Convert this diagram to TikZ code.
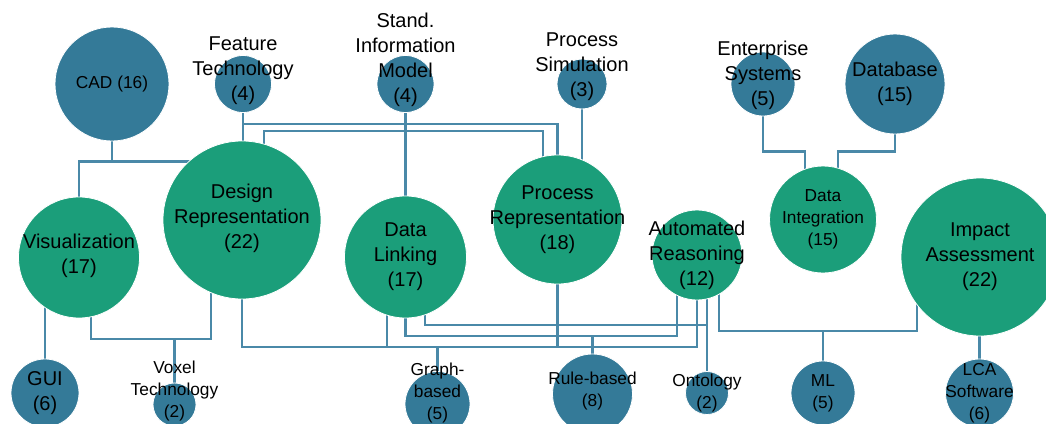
\documentclass[tikz,border=0pt]{standalone}
\usepackage{fontspec}
\setmainfont{Liberation Sans}
\usepackage{tikz}
\usetikzlibrary{calc,backgrounds}
\definecolor{ToolBlue}{HTML}{347A98}
\definecolor{TopicGreen}{HTML}{1B9E7A}
\definecolor{LinkBlue}{HTML}{4A89A8}

\begin{document}
\begin{tikzpicture}[
    x=1pt, y=-1pt,
    tool/.style={circle, fill=ToolBlue, draw=white, line width=0.8pt, inner sep=0pt},
    topic/.style={circle, fill=TopicGreen, draw=white, line width=0.8pt, inner sep=0pt},
    big/.style={align=center, inner sep=0pt, font=\fontsize{20}{25}\selectfont},
    small/.style={align=center, inner sep=0pt, font=\fontsize{17.3}{22}\selectfont},
    link/.style={draw=LinkBlue, line width=2.2pt}
]
\useasboundingbox (0,0) rectangle (1046,423);

% top row
\node[tool, minimum size=114] (cad) at (112,84) {};
\node[tool, minimum size=57] (ft) at (243,84) {};
\node[tool, minimum size=57] (sim) at (405.5,84) {};
\node[tool, minimum size=50] (psim) at (582,84) {};
\node[tool, minimum size=64] (ent) at (763,84) {};
\node[tool, minimum size=100] (db) at (895,84) {};
% middle row
\node[topic, minimum size=121] (vis) at (79,257.5) {};
\node[topic, minimum size=158] (dr) at (242,220) {};
\node[topic, minimum size=122] (dl) at (405.5,257) {};
\node[topic, minimum size=129] (pr) at (557.5,219.5) {};
\node[topic, minimum size=90] (ar) at (697,255) {};
\node[topic, minimum size=107] (di) at (823,219.5) {};
\node[topic, minimum size=158] (ia) at (980,257) {};
% bottom row
\node[tool, minimum size=68] (gui) at (45,393) {};
\node[tool, minimum size=43] (vox) at (174.5,404.5) {};
\node[tool, minimum size=65] (gb) at (437.5,404) {};
\node[tool, minimum size=80] (rb) at (592.5,394) {};
\node[tool, minimum size=43] (ont) at (707,393) {};
\node[tool, minimum size=64] (ml) at (823,393) {};
\node[tool, minimum size=68] (lca) at (979.5,393) {};

% labels
\node[small] (cad-t) at (cad) {CAD (16)};
\node[big] (ft-t) at ([yshift=13.5pt]ft.center) {Feature\\Technology\\(4)};
\node[big] (sim-t) at ([yshift=24pt]sim.center) {Stand.\\Information\\Model\\(4)};
\node[big] (psim-t) at ([yshift=17pt]psim.center) {Process\\Simulation\\(3)};
\node[big] (ent-t) at ([yshift=9pt]ent.center) {Enterprise\\Systems\\(5)};
\node[big] (db-t) at (db) {Database\\(15)};
\node[big] (vis-t) at ([yshift=2pt]vis.center) {Visualization\\(17)};
\node[big] (dr-t) at ([yshift=2pt]dr.center) {Design\\Representation\\(22)};
\node[big] (dl-t) at (dl) {Data\\Linking\\(17)};
\node[big] (pr-t) at (pr) {Process\\Representation\\(18)};
\node[big] (ar-t) at (ar) {Automated\\Reasoning\\(12)};
\node[small] (di-t) at (di) {Data\\Integration\\(15)};
\node[big] (ia-t) at (ia) {Impact\\Assessment\\(22)};
\node[big] (gui-t) at (gui) {GUI\\(6)};
\node[small] (vox-t) at ([yshift=13.5pt]vox.center) {Voxel\\Technology\\(2)};
\node[small] (gb-t) at ([yshift=11pt]gb.center) {Graph-\\based\\(5)};
\node[small] (rb-t) at ([yshift=2.5pt]rb.center) {Rule-based\\(8)};
\node[small] (ont-t) at (ont) {Ontology\\(2)};
\node[small] (ml-t) at (ml) {ML\\(5)};
\node[small] (lca-t) at (lca) {LCA\\Software\\(6)};

% connectors
\begin{scope}[on background layer]
\draw[link] (cad.south) -- ++(0,20) -| (vis);
\draw[link] (cad.south) -- ++(0,20) -| (dr);
\draw[link] (ft) -- (ft |- dr);
\draw[link] (ft.south) -- ++(0,11) -| (pr);
\draw[link] ($(dr)+(22,0)$) -- ++(0,-89) -| ($(pr)+(-14.5,0)$);
\draw[link] (sim) -- (dl);
\draw[link] (psim) -- (psim |- pr);
\draw[link] (ent.south) -- ++(0,35) -| ($(di)+(-18,0)$);
\draw[link] (db.south) -- ++(0,17) -| ($(di)+(15,0)$);
\draw[link] (gui) -- (gui |- vis);
\draw[link] ($(vis)+(12,0)$) -- ++(0,81.5) -| (vox);
\draw[link] ($(dr)+(-31,0)$) -- ++(0,119) -| (vox);
\draw[link] (dr) -- ++(0,127) -| (gb);
\draw[link] ($(dl)+(-18.5,0)$) -- ++(0,90) -| (gb);
\draw[link] (pr) -- ++(0,127.5) -| (gb);
\draw[link] (ar) -- ++(0,92) -| (gb);
\draw[link] (dl) -- ++(0,79) -| (rb);
\draw[link] ($(ar)+(-20,0)$) -- ++(0,81) -| (rb);
\draw[link] ($(dl)+(19.5,0)$) -- ++(0,68) -| (ont);
\draw[link] (ont) -- (ont |- ar);
\draw[link] ($(ar)+(22,0)$) -- ++(0,76) -| (ml);
\draw[link] ($(ia)+(-63,0)$) -- ++(0,74) -| (ml);
\draw[link] (lca) -- (lca |- ia);
\end{scope}
\end{tikzpicture}
\end{document}
